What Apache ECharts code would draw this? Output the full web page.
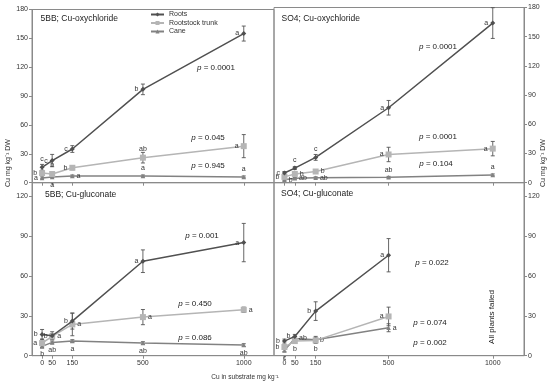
<!DOCTYPE html>
<html><head><meta charset="utf-8">
<script src="https://cdn.jsdelivr.net/npm/echarts@6/dist/echarts.min.js"></script>
<style>html,body{margin:0;padding:0;background:#fff}#c{width:550px;height:384px}</style>
</head><body><div id="c"></div>
<script>
// ---------- data ----------
const xValues = [0, 50, 150, 500, 1000];
const xTickLabels = [0, 50, 150, 500, 1000];
const yTicksTop = [0, 30, 60, 90, 120, 150, 180];
const yTicksBottom = [0, 30, 60, 90, 120];
const seriesNames = ['Roots', 'Rootstock trunk', 'Cane'];
const panelTitles = ['5BB; Cu-oxychloride', 'SO4; Cu-oxychloride', '5BB; Cu-gluconate', 'SO4; Cu-gluconate'];

// 5BB; Cu-oxychloride
const rootsTL = [16, 23, 35, 97, 155];
const rootsTLErr = [3, 6.4, 3.5, 5.5, 7.8];
const rootsTLLetters = ['c', 'c', 'c', 'b', 'a'];
const trunkTL = [10, 9, 15.5, 26, 38];
const trunkTLErr = [2, 2, 2, 5.5, 12];
const trunkTLLetters = ['b', 'b', 'b', 'ab', 'a'];
const caneTL = [5, 6, 7, 7, 6];
const caneTLErr = [1, 1, 1, 1, 1];
const caneTLLetters = ['a', 'a', 'a', 'a', 'a'];
const pTL = ['0.0001', '0.045', '0.945'];

// SO4; Cu-oxychloride
const rootsTR = [10, 15, 26, 77, 164];
const rootsTRErr = [1.5, 1.5, 3, 7.5, 15.8];
const rootsTRLetters = ['c', 'c', 'c', 'a', 'a'];
const trunkTR = [6, 9, 11.5, 29, 35];
const trunkTRErr = [1.5, 1.5, 1.5, 7.4, 7.4];
const trunkTRLetters = ['b', 'b', 'b', 'a', 'a'];
const caneTR = [3, 4.5, 5, 5.5, 8];
const caneTRErr = [1, 1, 1, 1, 1];
const caneTRLetters = ['b', 'ab', 'ab', 'ab', 'a'];
const pTR = ['0.0001', '0.0001', '0.104'];

// 5BB; Cu-gluconate
const rootsBL = [16, 15, 26, 71, 85];
const rootsBLErr = [3.7, 3, 6, 8.5, 14.4];
const rootsBLLetters = ['b', 'b', 'b', 'a', 'a'];
const trunkBL = [9.5, 14.5, 23.5, 29, 34.5];
const trunkBLErr = [3, 2, 8.5, 5.7, 2];
const trunkBLLetters = ['a', 'a', 'a', 'a', 'a'];
const caneBL = [7, 10, 11, 9.5, 8];
const caneBLErr = [1, 1, 1, 1, 1];
const caneBLLetters = ['b', 'ab', 'a', 'ab', 'ab'];
const pBL = ['0.001', '0.450', '0.086'];

// SO4; Cu-gluconate (1000 missing: all plants failed)
const rootsBR = [11, 14.5, 33.5, 75.5];
const rootsBRErr = [1.5, 1.5, 7, 12.5];
const rootsBRLetters = ['b', 'b', 'b', 'a'];
const trunkBR = [6.5, 11, 11.5, 29.5];
const trunkBRErr = [1.5, 1.5, 2, 7];
const trunkBRLetters = ['b', 'b', 'b', 'a'];
const caneBR = [4, 13, 12, 21];
const caneBRErr = [1, 1.5, 2.5, 3];
const caneBRLetters = ['c', 'ab', 'b', 'a'];
const pBR = ['0.022', '0.074', '0.002'];

const yTitle = 'Cu mg kg\u207B\u00B9 DW';
const xTitle = 'Cu in substrate mg kg\u207B\u00B9';
const failedNote = 'All plants failed';

// ---------- layout / style ----------
const FONT = 'Liberation Sans, Arial, sans-serif';
const axisColor = '#8a8a8a';
const styles = {
  'Roots': { color: '#505050', symbol: 'diamond', size: 5 },
  'Rootstock trunk': { color: '#b5b5b5', symbol: 'rect', size: 6 },
  'Cane': { color: '#828282', symbol: 'triangle', size: 4.5 }
};

const panels = [
  { grid: { left: 32, top: 9.5, width: 242, height: 173.2 }, yMax: 180, yTicks: yTicksTop, yPos: 'left', showX: false,
    series: [
      [rootsTL, rootsTLErr, rootsTLLetters, ['top', 'left', 'left', 'left', 'left']],
      [trunkTL, trunkTLErr, trunkTLLetters, ['left', 'top', 'left', 'top', 'left']],
      [caneTL, caneTLErr, caneTLLetters, ['left', 'bottom', 'right', 'top', 'top']]
    ] },
  { grid: { left: 274, top: 7.5, width: 250, height: 175.2 }, yMax: 180, yTicks: yTicksTop, yPos: 'right', showX: false,
    series: [
      [rootsTR, rootsTRErr, rootsTRLetters, ['left', 'top', 'top', 'left', 'left']],
      [trunkTR, trunkTRErr, trunkTRLetters, ['left', 'right', 'right', 'left', 'left']],
      [caneTR, caneTRErr, caneTRLetters, ['right', 'right', 'right', 'top', 'top']]
    ] },
  { grid: { left: 32, top: 182.7, width: 242, height: 173 }, yMax: 130, yTicks: yTicksBottom, yPos: 'left', showX: true,
    series: [
      [rootsBL, rootsBLErr, rootsBLLetters, ['left', 'left', 'left', 'left', 'left']],
      [trunkBL, trunkBLErr, trunkBLLetters, ['left', 'right', 'right', 'right', 'right']],
      [caneBL, caneBLErr, caneBLLetters, ['bottom', 'bottom', 'bottom', 'bottom', 'bottom']]
    ] },
  { grid: { left: 274, top: 182.7, width: 250, height: 173 }, yMax: 130, yTicks: yTicksBottom, yPos: 'right', showX: true,
    series: [
      [rootsBR, rootsBRErr, rootsBRLetters, ['left', 'left', 'left', 'left']],
      [trunkBR, trunkBRErr, trunkBRLetters, ['left', 'bottom', 'bottom', 'left']],
      [caneBR, caneBRErr, caneBRLetters, ['bottom', 'right', 'right', 'right']]
    ] }
];

// p-value annotations: [panel p array, x, y positions]
const pPlacement = [
  [pTL, [[216, 68], [208, 138], [208, 166]]],
  [pTR, [[438, 47], [438, 137], [436, 164]]],
  [pBL, [[202, 236], [195, 304], [195, 338]]],
  [pBR, [[432, 263], [430, 323], [430, 343]]]
];
const titlePlacement = [[40.5, 19], [281.5, 19], [45, 195], [281, 194]];

// ---------- build option ----------
const grids = [], xAxes = [], yAxes = [], series = [], graphics = [];

panels.forEach((p, i) => {
  grids.push(Object.assign({ show: true, borderColor: axisColor, borderWidth: 1, backgroundColor: 'transparent', containLabel: false, outerBoundsMode: 'none' }, p.grid));
  xAxes.push({
    gridIndex: i, type: 'value', min: -50, max: 1150,
    axisLine: { show: true, onZero: false, lineStyle: { color: axisColor, width: 1 } },
    axisTick: { show: true, length: 3, customValues: xTickLabels, lineStyle: { color: axisColor } },
    axisLabel: { show: p.showX, customValues: xTickLabels, formatter: (v) => String(v), fontSize: 7, fontFamily: FONT, color: '#333', margin: 4 },
    splitLine: { show: false }
  });
  yAxes.push({
    gridIndex: i, type: 'value', min: 0, max: p.yMax, position: p.yPos,
    axisLine: { show: true, onZero: false, lineStyle: { color: axisColor, width: 1 } },
    axisTick: { show: true, length: 3, customValues: p.yTicks, lineStyle: { color: axisColor } },
    axisLabel: { customValues: p.yTicks, formatter: (v) => String(v), fontSize: 7, fontFamily: FONT, color: '#333', margin: 4 },
    splitLine: { show: false }
  });
  p.series.forEach((s, k) => {
    const name = seriesNames[k];
    const st = styles[name];
    const [ys, errs, letters, pos] = s;
    series.push({
      type: 'custom', xAxisIndex: i, yAxisIndex: i, silent: true, clip: false, z: 2,
      data: ys.map((y, j) => [xValues[j], y, errs[j]]),
      encode: { x: 0, y: 1 },
      renderItem: (params, api) => {
        const x = api.value(0), y = api.value(1), e = api.value(2);
        const t = api.coord([x, y + e]), b = api.coord([x, y - e]);
        const w = 2, ls = { stroke: '#555', lineWidth: 0.9 };
        return { type: 'group', children: [
          { type: 'line', shape: { x1: t[0], y1: t[1], x2: b[0], y2: b[1] }, style: ls },
          { type: 'line', shape: { x1: t[0] - w, y1: t[1], x2: t[0] + w, y2: t[1] }, style: ls },
          { type: 'line', shape: { x1: b[0] - w, y1: b[1], x2: b[0] + w, y2: b[1] }, style: ls }
        ] };
      }
    });
    series.push({
      type: 'line', name: name, xAxisIndex: i, yAxisIndex: i, z: 3 + (2 - k),
      symbol: st.symbol, symbolSize: st.size, showAllSymbol: true,
      lineStyle: { color: st.color, width: 1.5 },
      itemStyle: { color: st.color, borderWidth: 0 },
      data: ys.map((y, j) => ({ value: [xValues[j], y], label: { position: pos[j] } })),
      label: { show: true, formatter: (prm) => letters[prm.dataIndex], fontSize: 7, fontFamily: FONT, color: '#333', distance: 2 },
      emphasis: { disabled: true },
      animation: false
    });
  });
});

titlePlacement.forEach((tp, i) => {
  graphics.push({ type: 'text', x: tp[0], y: tp[1], style: { text: panelTitles[i], font: '8.5px ' + FONT, fill: '#222', align: 'left', verticalAlign: 'middle' } });
});
pPlacement.forEach(([vals, places]) => {
  vals.forEach((v, j) => {
    graphics.push({ type: 'text', x: places[j][0], y: places[j][1], style: {
      text: '{i|p} = ' + v, font: '8px ' + FONT, fill: '#222', align: 'center', verticalAlign: 'middle',
      rich: { i: { font: 'italic 8px ' + FONT, fill: '#222' } } } });
  });
});
graphics.push({ type: 'text', x: 8, y: 163, rotation: Math.PI / 2, style: { text: yTitle, font: '7px ' + FONT, fill: '#333', align: 'center', verticalAlign: 'middle' } });
graphics.push({ type: 'text', x: 543, y: 163, rotation: Math.PI / 2, style: { text: yTitle, font: '7px ' + FONT, fill: '#333', align: 'center', verticalAlign: 'middle' } });
graphics.push({ type: 'text', x: 245, y: 377, style: { text: xTitle, font: '6.5px ' + FONT, fill: '#333', align: 'center', verticalAlign: 'middle' } });
graphics.push({ type: 'text', x: 492, y: 317, rotation: Math.PI / 2, style: { text: failedNote, font: '8px ' + FONT, fill: '#222', align: 'center', verticalAlign: 'middle' } });

const option = {
  backgroundColor: '#fff',
  animation: false,
  grid: grids, xAxis: xAxes, yAxis: yAxes, series: series,
  legend: {
    data: seriesNames, orient: 'vertical', left: 150, top: 11, itemWidth: 13, itemHeight: 5, itemGap: 1.5,
    textStyle: { fontSize: 7, fontFamily: FONT, color: '#333', lineHeight: 7 }, padding: 0
  },
  graphic: graphics
};
const chart = echarts.init(document.getElementById('c'), null, { renderer: 'canvas' });
chart.setOption(option);
</script></body></html>
